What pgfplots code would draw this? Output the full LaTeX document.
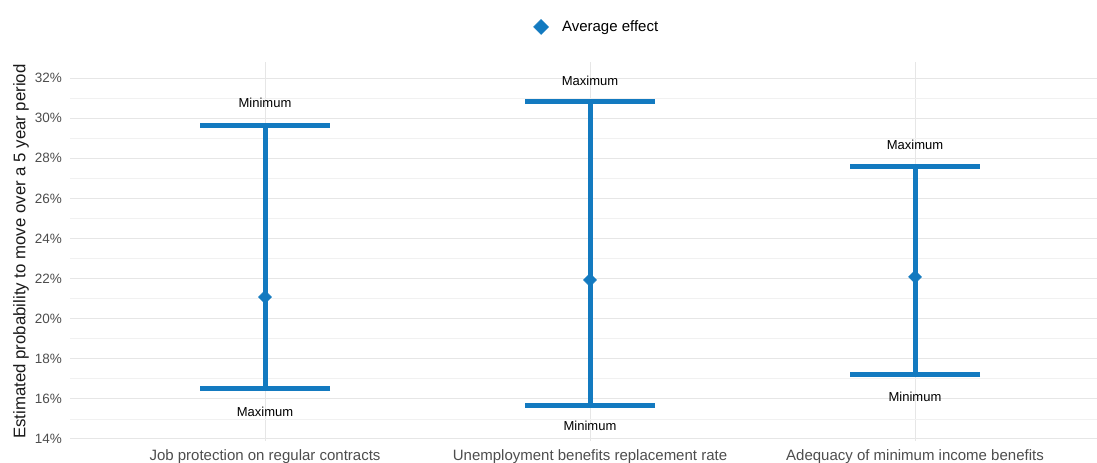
\documentclass[border=0pt]{standalone}
\usepackage{fontspec}
\setmainfont{Liberation Sans}
\usepackage{pgfplots}
\pgfplotsset{compat=1.18}
\definecolor{oblue}{RGB}{19,122,192}
\definecolor{gmaj}{RGB}{230,230,230}
\definecolor{gmin}{RGB}{241,241,241}
\definecolor{tickgray}{RGB}{77,77,77}
\begin{document}
\begin{tikzpicture}
\begin{axis}[
  at={(70bp,22bp)}, anchor=south west,
  scale only axis, width=1027bp, height=379bp,
  xmin=0.4, xmax=3.56, ymin=13.9, ymax=32.8,
  axis line style={draw=none},
  tick style={draw=none},
  xtick={1,2,3},
  xticklabels={Job protection on regular contracts, Unemployment benefits replacement rate, Adequacy of minimum income benefits},
  ytick={14,16,...,32},
  minor ytick={15,17,...,31},
  yticklabel={\pgfmathprintnumber{\tick}\%},
  /pgf/number format/assume math mode=true,
  grid=both,
  major grid style={gmaj, line width=1bp},
  minor grid style={gmin, line width=0.8bp},
  yticklabel style={font=\fontsize{13.5bp}{15bp}\selectfont, text=tickgray, inner sep=0pt, anchor=east, xshift=-8bp},
  xticklabel style={font=\fontsize{15bp}{17bp}\selectfont, text=tickgray, inner sep=0pt, anchor=base, yshift=-19.5bp},
  ylabel={Estimated probability to move over a 5 year period},
  ylabel style={at={(axis description cs:0,0.5)}, anchor=center, yshift=49bp, font=\fontsize{16.8bp}{19bp}\selectfont, text=black!90},
  legend style={at={(axis description cs:0.513,1)}, anchor=center, yshift=35bp, draw=none, fill=none, font=\fontsize{15bp}{17bp}\selectfont, legend columns=-1},
  legend image code/.code={\path[draw=none,fill=none] (-7.5bp,0) -- (19bp,0); \draw[oblue, fill=oblue] plot[mark=square*, mark size=5.3bp, mark options={rotate=45}] coordinates {(0bp,0bp)};},
  clip=false,
]
% vertical range (min to max) with caps
\addplot[forget plot, only marks, mark=none, oblue,
  error bars/.cd, y dir=both, y explicit,
  error bar style={oblue, line width=5bp},
  error mark=|, error mark options={oblue, line width=5bp, mark size=65bp}]
  coordinates {
    (1,21.08) += (0,8.53) -= (0,4.58)
    (2,21.93) += (0,8.92) -= (0,6.28)
    (3,22.08) += (0,5.53) -= (0,4.88)
  };
% average effect
\addplot[only marks, mark=square*, mark size=4.6bp, mark options={rotate=45, fill=oblue, draw=oblue}]
  coordinates {(1,21.08) (2,21.93) (3,22.08)};
\addlegendentry{Average effect}
\begin{scope}[every node/.style={font=\fontsize{13bp}{15bp}\selectfont, text=black}]
\node at (axis cs:1,30.77) {Minimum};
\node at (axis cs:1,15.36) {Maximum};
\node at (axis cs:2,31.86) {Maximum};
\node at (axis cs:2,14.67) {Minimum};
\node at (axis cs:3,28.66) {Maximum};
\node at (axis cs:3,16.10) {Minimum};
\end{scope}
\end{axis}
\pgfresetboundingbox
\useasboundingbox (0,0) rectangle (1097bp,463bp);
\end{tikzpicture}
\end{document}
